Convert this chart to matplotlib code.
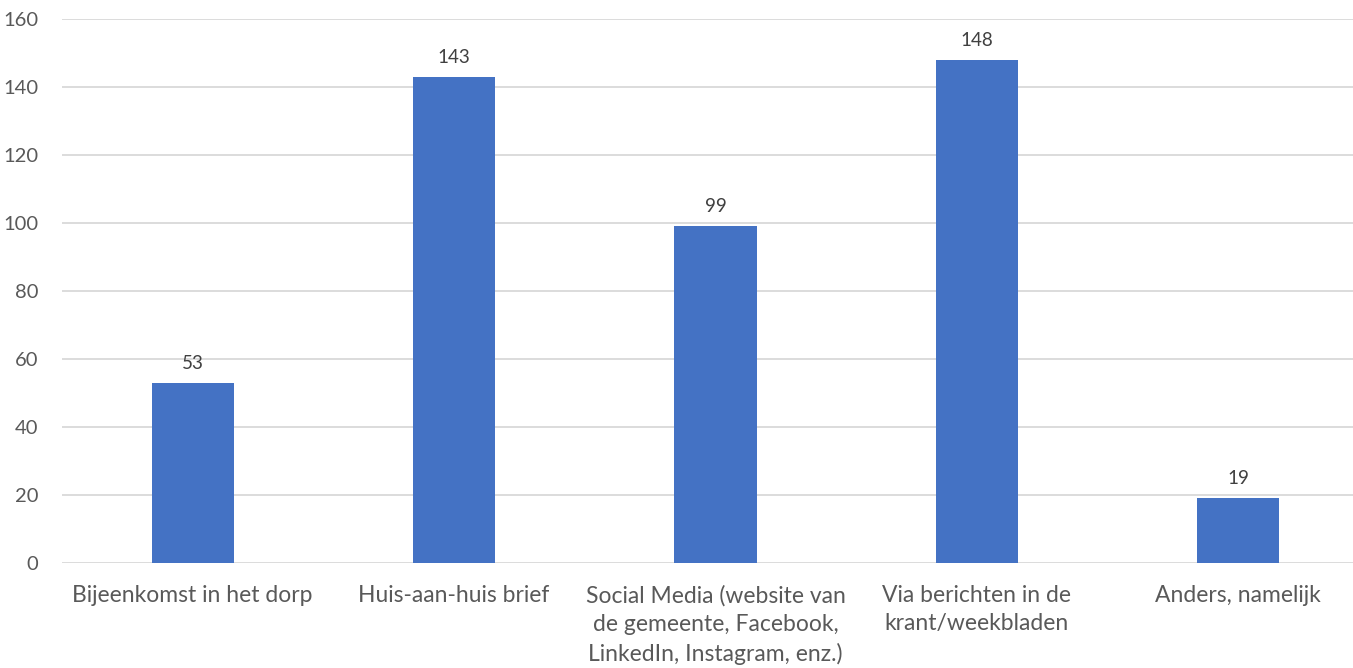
import matplotlib
matplotlib.use("Agg")
import matplotlib.pyplot as plt

# Data
categories = [
    "Bijeenkomst in het dorp",
    "Huis-aan-huis brief",
    "Social Media (website van\nde gemeente, Facebook,\nLinkedIn, Instagram, enz.)",
    "Via berichten in de\nkrant/weekbladen",
    "Anders, namelijk",
]
values = [53, 143, 99, 148, 19]
y_ticks = [0, 20, 40, 60, 80, 100, 120, 140, 160]

BAR_COLOR = "#4472C4"
GRID_COLOR = "#D9D9D9"
TEXT_COLOR = "#595959"

plt.rcParams["font.family"] = ["Lato", "DejaVu Sans"]

fig = plt.figure(figsize=(13.53, 6.68), dpi=100)
# axes runs past the right edge like the cropped original
ax = fig.add_axes([62 / 1353, 105 / 668, 1307 / 1353, 544 / 668])

x = list(range(len(categories)))
bars = ax.bar(x, values, width=0.314, color=BAR_COLOR, zorder=3)

# value labels above the bars
for rect, v in zip(bars, values):
    ax.annotate(
        str(v),
        (rect.get_x() + rect.get_width() / 2, rect.get_height()),
        xytext=(0, 8),
        textcoords="offset points",
        ha="center",
        va="bottom",
        fontsize=13.5,
        color="#404040",
    )

ax.set_xlim(-0.5, len(categories) - 0.5)
ax.set_ylim(0, 160)
ax.set_yticks(y_ticks)
ax.set_xticks(x)
ax.set_xticklabels(categories, linespacing=1.42)

ax.yaxis.grid(True, color=GRID_COLOR, linewidth=1.3, zorder=0)
ax.tick_params(axis="y", length=0, labelsize=14.5, labelcolor=TEXT_COLOR, pad=17)
ax.tick_params(axis="x", length=0, labelsize=16.5, labelcolor=TEXT_COLOR, pad=16)
for s in ax.spines.values():
    s.set_visible(False)

fig.savefig("out.png", dpi=100)
